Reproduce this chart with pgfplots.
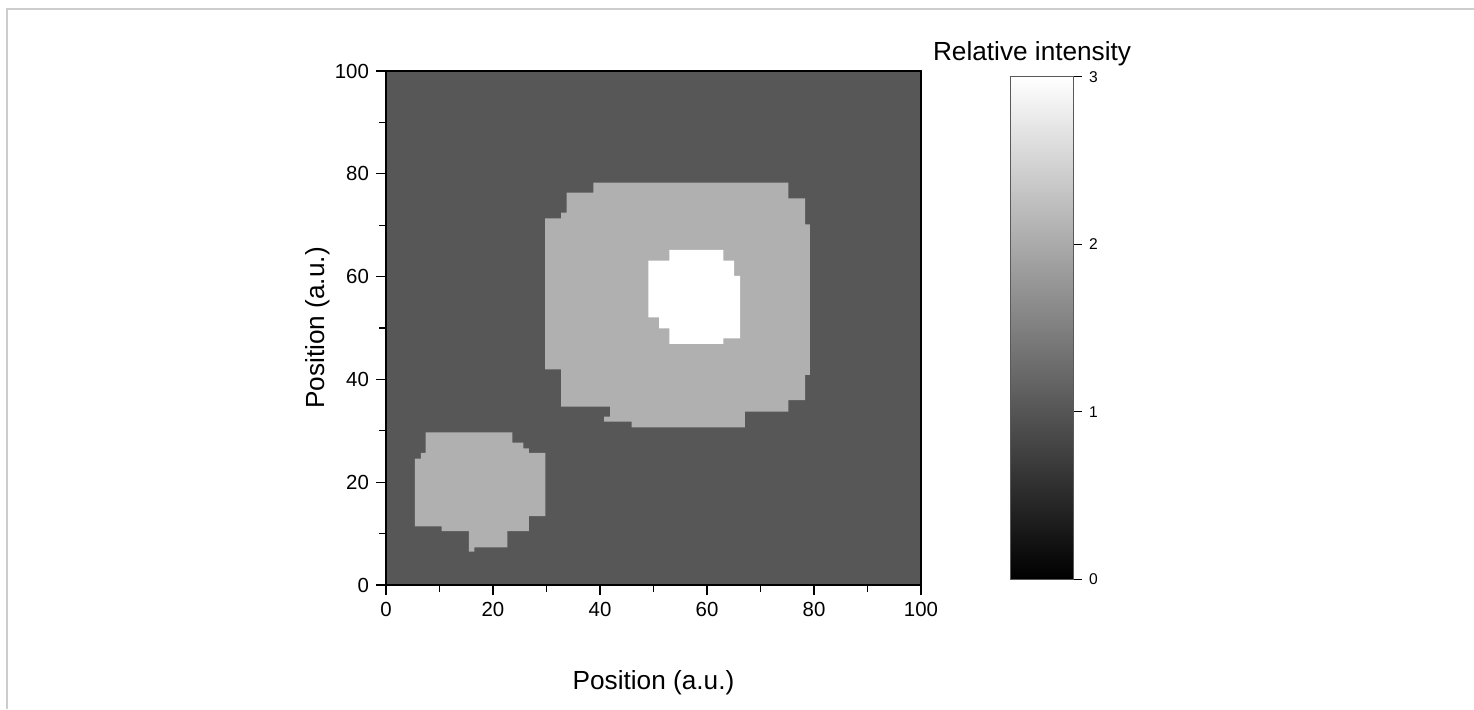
\documentclass[border=0pt]{standalone}
\usepackage{fontspec}
\setmainfont{Liberation Sans}
\usepackage{pgfplots}
\pgfplotsset{compat=1.18}
\definecolor{bgc}{RGB}{87,87,87}
\definecolor{midc}{RGB}{176,176,176}
\definecolor{framec}{RGB}{205,205,205}
\begin{document}
\begin{tikzpicture}
\path[use as bounding box] (0,0) rectangle (737pt,354.5pt);
\draw[framec, line width=1pt] (3.5pt,0) -- (3.5pt,350pt) -- (737pt,350pt);
\begin{axis}[
  at={(193pt,62pt)}, anchor=south west,
  scale only axis, width=267.5pt, height=257pt,
  xmin=0, xmax=100, ymin=0, ymax=100,
  axis on top,
  xtick={0,20,...,100}, ytick={0,20,...,100},
  minor xtick={10,30,...,90}, minor ytick={10,30,...,90},
  tick align=outside, xtick pos=left, ytick pos=left,
  major tick length=5pt, minor tick length=3.5pt,
  every tick/.style={black, line width=0.6pt},
  axis line style={line width=0.7pt},
  ticklabel style={font=\fontsize{10.2pt}{12pt}\selectfont},
  /pgf/number format/assume math mode=true,
  xlabel={Position (a.u.)}, ylabel={Position (a.u.)},
  label style={font=\fontsize{13.1pt}{15pt}\selectfont},
  xlabel style={at={(axis description cs:0.5,-0.1907)}, anchor=center},
  ylabel style={at={(axis description cs:-0.127,0.5)}, anchor=center},
  colorbar, colormap/blackwhite, point meta min=0, point meta max=3,
  colorbar/width=31.5pt,
  colorbar style={
    at={(parent axis.north east)}, anchor=north west,
    xshift=36pt, yshift=-2.85pt,
    scale only axis, width=31.5pt, height=251.3pt,
    xmin=0, xmax=1, enlargelimits=false,
    ytick={0,1,2,3}, yticklabel pos=right, ytick pos=right,
    tick align=outside, major tick length=4.5pt,
    every tick/.style={black, line width=0.5pt},
    ticklabel style={font=\fontsize{7.8pt}{9pt}\selectfont},
    /pgf/number format/assume math mode=true,
    axis line style={draw=black!65, line width=0.5pt},
    title={Relative intensity},
    title style={at={(0.5,1)}, anchor=base, yshift=2pt, xshift=-4.75pt,
      font=\fontsize{13.1pt}{15pt}\selectfont},
  },
]
% background (value 1)
\addplot[fill=bgc, draw=none] coordinates {(0,0) (100,0) (100,100) (0,100)} --cycle;
% small region (value 2)
\addplot[fill=midc, draw=none] coordinates {
(7.4,29.7) (23.6,29.7) (23.6,27.7) (25.7,27.7) (25.7,26.6) (26.7,26.6) (26.7,25.7) (29.8,25.7)
(29.8,13.4) (26.7,13.4) (26.7,10.5) (22.7,10.5) (22.7,7.3) (16.5,7.3) (16.5,6.5) (15.5,6.5)
(15.5,10.5) (10.4,10.5) (10.4,11.4) (5.4,11.4) (5.4,24.6) (6.5,24.6) (6.5,25.7) (7.4,25.7)
} --cycle;
% large region (value 2)
\addplot[fill=midc, draw=none] coordinates {
(38.75,78.27) (38.75,76.33) (33.77,76.33) (33.77,72.44) (32.71,72.44) (32.71,71.34) (29.72,71.34)
(29.72,41.96) (32.71,41.96) (32.71,34.69) (41.87,34.69) (41.87,32.75) (40.75,32.75) (40.75,31.78)
(45.92,31.78) (45.92,30.67) (67.10,30.67) (67.10,33.72) (75.20,33.72) (75.20,35.99) (78.32,35.99)
(78.32,40.86) (79.25,40.86) (79.25,70.17) (78.32,70.17) (78.32,75.23) (75.20,75.23) (75.20,78.27)
} --cycle;
% core (value 3)
\addplot[fill=white, draw=none] coordinates {
(52.96,65.18) (52.96,63.10) (49.03,63.10) (49.03,52.08) (51.03,52.08) (51.03,49.94) (52.96,49.94)
(52.96,46.89) (63.05,46.89) (63.05,47.99) (66.17,47.99) (66.17,60.12) (65.05,60.12) (65.05,63.10)
(63.05,63.10) (63.05,65.18)
} --cycle;
\end{axis}
\end{tikzpicture}
\end{document}
